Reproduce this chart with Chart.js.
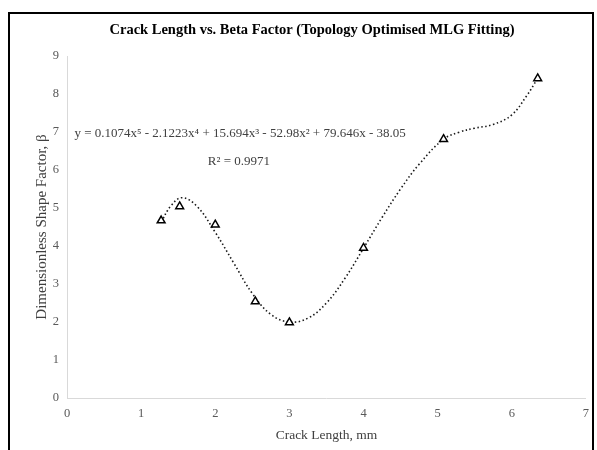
<!DOCTYPE html>
<html>
<head>
<meta charset="utf-8">
<script src="https://cdn.jsdelivr.net/npm/chart.js@4.4.1/dist/chart.umd.min.js"></script>
<style>
  html, body { margin: 0; padding: 0; background: #fff; }
  #wrap { width: 597px; height: 450px; position: relative; }
</style>
</head>
<body>
<div id="wrap"><canvas id="chart" width="597" height="450"></canvas></div>
<script>
// measured points
const crackLength = [1.27, 1.52, 2.0, 2.54, 3.0, 4.0, 5.08, 6.35];
const betaFactor = [4.67, 5.04, 4.56, 2.54, 1.99, 3.95, 6.81, 8.41];

// dotted poly trendline
const trendX = [1.27, 1.4, 1.55, 1.75, 2.0, 2.25, 2.5, 2.75, 3.0, 3.25, 3.5, 3.75, 4.0, 4.25, 4.5, 4.75, 5.08, 5.3, 5.5, 5.75, 6.0, 6.2, 6.35];
const trendY = [4.63, 5.05, 5.27, 5.05, 4.36, 3.55, 2.75, 2.2, 2.0, 2.1, 2.5, 3.15, 3.94, 4.75, 5.5, 6.15, 6.81, 7.0, 7.1, 7.2, 7.45, 7.95, 8.41];

const xTicks = [0, 1, 2, 3, 4, 5, 6, 7];
const yTicks = [0, 1, 2, 3, 4, 5, 6, 7, 8, 9];

const titleText = "Crack Length vs. Beta Factor (Topology Optimised MLG Fitting)";
const equationText = "y = 0.1074x\u2075 - 2.1223x\u2074 + 15.694x\u00B3 - 52.98x\u00B2 + 79.646x - 38.05";
const r2Text = "R\u00B2 = 0.9971";
const xTitle = "Crack Length, mm";
const yTitle = "Dimensionless Shape Factor, \u03B2";

const serif = "'Liberation Serif', 'Times New Roman', serif";

// frame, title and trendline labels
const chartText = {
  id: "chartText",
  afterDraw(chart) {
    const ctx = chart.ctx;
    const x = chart.scales.x, y = chart.scales.y;
    ctx.save();
    ctx.strokeStyle = "#000";
    ctx.lineWidth = 2;
    ctx.strokeRect(9, 13, 584, 450);

    ctx.fillStyle = "#000";
    ctx.font = "bold 14.5px " + serif;
    ctx.textAlign = "center";
    ctx.textBaseline = "middle";
    ctx.fillText(titleText, 312, 30);

    ctx.fillStyle = "#404040";
    ctx.font = "13px " + serif;
    ctx.textAlign = "left";
    ctx.fillText(equationText, x.getPixelForValue(0.1), y.getPixelForValue(6.95));
    ctx.fillText(r2Text, x.getPixelForValue(1.9), y.getPixelForValue(6.22));
    ctx.restore();
  }
};

new Chart(document.getElementById("chart"), {
  type: "scatter",
  data: {
    datasets: [
      {
        label: "Beta",
        data: crackLength.map((c, i) => ({ x: c, y: betaFactor[i] })),
        pointStyle: "triangle",
        pointRadius: 4.5,
        pointBackgroundColor: "#fff",
        pointBorderColor: "#000",
        pointBorderWidth: 1.5,
        showLine: false
      },
      {
        label: "Poly. (Beta)",
        data: trendX.map((t, i) => ({ x: t, y: trendY[i] })),
        showLine: true,
        pointRadius: 0,
        borderColor: "#1a1a1a",
        borderWidth: 1.6,
        borderDash: [1.5, 2.5],
        tension: 0.4
      }
    ]
  },
  options: {
    responsive: false,
    animation: false,
    layout: { padding: { left: 29, top: 56, right: 10, bottom: 0 } },
    plugins: {
      legend: { display: false },
      tooltip: { enabled: false },
      title: { display: false }
    },
    scales: {
      x: {
        type: "linear",
        min: 0,
        max: 7,
        afterBuildTicks: s => { s.ticks = xTicks.map(v => ({ value: v })); },
        afterFit: s => { s.height = 52; },
        grid: { display: false, drawTicks: false },
        border: { color: "#d9d9d9", width: 1 },
        ticks: { color: "#595959", font: { family: serif, size: 12.5 }, padding: 8 },
        title: {
          display: true,
          text: xTitle,
          color: "#404040",
          font: { family: serif, size: 13.5 },
          padding: { top: 2, bottom: 6 }
        }
      },
      y: {
        type: "linear",
        min: 0,
        max: 9,
        afterBuildTicks: s => { s.ticks = yTicks.map(v => ({ value: v })); },
        afterFit: s => { s.width = 38; },
        grid: { display: false, drawTicks: false },
        border: { color: "#d9d9d9", width: 1 },
        ticks: { color: "#595959", font: { family: serif, size: 12.5 }, padding: 8 },
        title: {
          display: true,
          text: yTitle,
          color: "#404040",
          font: { family: serif, size: 15 },
          padding: { top: 4, bottom: 2 }
        }
      }
    }
  },
  plugins: [chartText]
});
</script>
</body>
</html>
